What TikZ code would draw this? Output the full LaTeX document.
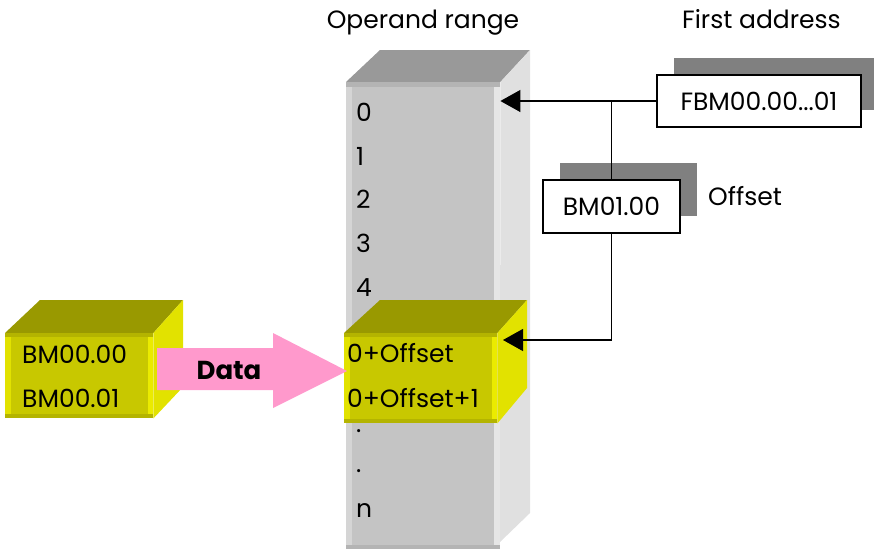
\documentclass[tikz,border=0pt]{standalone}
\usepackage{fontspec}
\setmainfont{Poppins}
\usepackage{tikz}
\usetikzlibrary{arrows.meta, positioning, shadows, shapes.arrows, calc}
\definecolor{rangefront}{HTML}{C4C4C4}
\definecolor{rangetop}{HTML}{999999}
\definecolor{rangeside}{HTML}{E0E0E0}
\definecolor{rangeedge}{HTML}{B4B4B4}
\definecolor{blockfront}{HTML}{C8C800}
\definecolor{blocktop}{HTML}{999900}
\definecolor{blockside}{HTML}{E2E200}
\definecolor{blockedge}{HTML}{B4B400}
\definecolor{datapink}{HTML}{FF99CC}
\definecolor{shadowgray}{HTML}{808080}
\tikzstyle{addrbox} = [rectangle, draw=black, line width=1.2pt, fill=white, inner sep=0pt, drop shadow={shadow xshift=17pt, shadow yshift=17pt, fill=shadowgray, opacity=1}]
\tikzstyle{face} = [rectangle, anchor=north west, inner sep=0pt]
\tikzstyle{celltext} = [anchor=base west, inner sep=0pt]
\tikzstyle{dotmark} = [celltext, text height=4pt, text depth=0pt]
\tikzstyle{arrow} = [line width=1.2pt, -{Triangle[length=20pt, width=22pt]}]

\begin{document}
\begin{tikzpicture}[x=1pt, y=-1pt, every node/.style={font=\fontsize{25}{30}\selectfont}]
  \useasboundingbox (0,0) rectangle (874,549);

  % operand range column
  \node[face, fill=rangefront, minimum width=154pt, minimum height=467pt] (range) at (346,82) {};
  \fill[rangetop] (range.north west) -- (380,50) -- (530,50) -- (range.north east) -- cycle;
  \fill[rangeside] (range.north east) -- (530,50) -- (530,513) -- (500,542) -- cycle;
  \fill[rangeside!60!rangefront] (346,82) rectangle (352,549);
  \fill[rangeside!80!white] (494,82) rectangle (500,549);
  \fill[rangeedge] (346,82) rectangle (500,87);
  \fill[rangeedge] (346,545) rectangle (500,549);
  \node[celltext] (c0) at (356,121) {0};
  \node[celltext] (c1) at (356,165) {1};
  \node[celltext] (c2) at (356,208) {2};
  \node[celltext] (c3) at (356,252) {3};
  \node[celltext] (c4) at (356,296) {4};
  \node[dotmark] (c5) at (356,432) {.};
  \node[dotmark] (c6) at (356,472) {.};
  \node[celltext] (cn) at (356,517) {n};

  % data block in range
  \node[face, fill=blockfront, minimum width=153pt, minimum height=90pt] (target) at (344,333) {};
  \fill[blocktop] (target.north west) -- (380,300) -- (527,300) -- (target.north east) -- cycle;
  \fill[blockside] (target.north east) -- (527,300) -- (527,388) -- (target.south east) -- cycle;
  \fill[blockside] (344,333) rectangle (350,423);
  \fill[blockside!70!yellow] (492,333) rectangle (497,423);
  \fill[blockedge] (344,333) rectangle (497,337);
  \fill[blockedge] (344,419) rectangle (497,423);
  \node[celltext] (t0) at (347,362) {0+Offset};
  \node[celltext] (t1) at (347,407) {0+Offset+1};

  % source block
  \node[face, fill=blockfront, minimum width=148pt, minimum height=85pt] (src) at (5,333) {};
  \fill[blocktop] (src.north west) -- (40,300) -- (183,300) -- (src.north east) -- cycle;
  \fill[blockside] (src.north east) -- (183,300) -- (183,387) -- (src.south east) -- cycle;
  \fill[blockside] (5,333) rectangle (11,418);
  \fill[blockside!70!yellow] (148,333) rectangle (153,418);
  \fill[blockedge] (5,333) rectangle (153,337);
  \fill[blockedge] (5,414) rectangle (153,418);
  \node[celltext] (s0) at (22,363) {BM00.00};
  \node[celltext] (s1) at (22,407) {BM00.01};

  % data arrow
  \fill[datapink] (157,348) -- (273,348) -- (273,333) -- (347,371) -- (273,408) -- (273,390) -- (157,390) -- cycle;
  \node[font=\fontsize{26}{30}\selectfont\bfseries] (data) at (229,370) {Data};

  % address registers
  \node[addrbox, minimum width=204pt, minimum height=52pt] (fbm) at (759,101) {FBM00.00...01};
  \node[addrbox, minimum width=137pt, minimum height=53pt] (offs) at (611.5,206.5) {BM01.00};
  \node[celltext] (offlbl) at (708,205) {Offset};
  \node[anchor=base] (title) at (423,28) {Operand range};
  \node[celltext] (first) at (682,28) {First address};

  \coordinate (hit) at (503,340);
  \draw[arrow] (fbm.west) -- (fbm.west -| range.east);
  \draw[line width=1.2pt] (fbm.west -| offs.north) -- (offs.north);
  \draw[arrow] (offs.south) |- (hit);
\end{tikzpicture}
\end{document}
